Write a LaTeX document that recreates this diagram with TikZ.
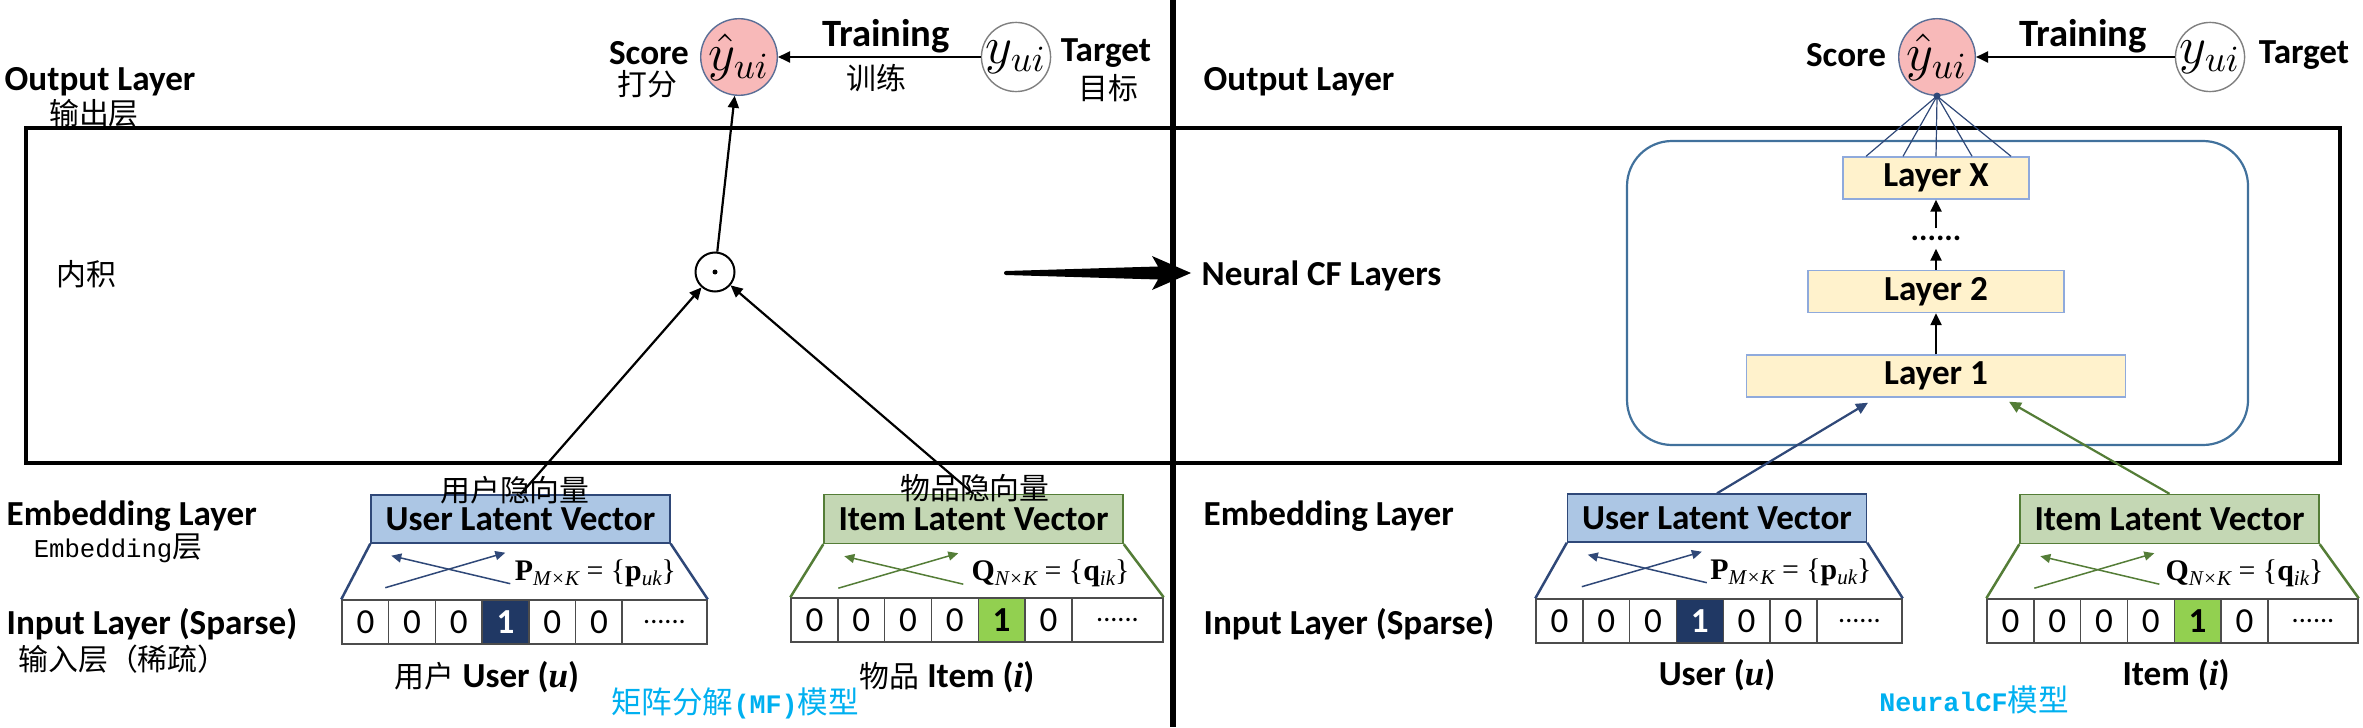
\RequirePackage{fix-cm}
\documentclass[tikz,border=0pt]{standalone}
\usepackage[no-math]{fontspec}
\setmainfont{Carlito}
\newfontfamily\cjk{Noto Sans CJK SC}
\newfontfamily\mono{Liberation Mono}
\newfontfamily\tms{Liberation Serif}
\usetikzlibrary{arrows.meta}
\definecolor{scorepink}{RGB}{248,185,185}
\definecolor{circline}{RGB}{90,110,150}
\definecolor{userblue}{RGB}{172,198,228}
\definecolor{userline}{RGB}{47,72,120}
\definecolor{usernavy}{RGB}{32,56,100}
\definecolor{itemgreen}{RGB}{196,215,180}
\definecolor{itemline}{RGB}{84,125,55}
\definecolor{itemhot}{RGB}{146,208,80}
\definecolor{layerfill}{RGB}{255,242,204}
\definecolor{layerline}{RGB}{143,170,220}
\definecolor{ncfline}{RGB}{65,113,156}
\definecolor{titlecyan}{RGB}{0,176,240}
% two small crossed arrows under a latent vector box
\newcommand\latentcross[2]{%
  \draw[#2, line width=0.15mm, ->, >={Triangle[length=1mm,width=0.9mm]}] ([shift={(15,44)}]#1.south west) -- ++(120,-35);
  \draw[#2, line width=0.15mm, ->, >={Triangle[length=1mm,width=0.9mm]}] ([shift={(140,40)}]#1.south west) -- ++(-119,-28);}
% matrix label in Times: #1_{#2} = {#3_{#4}}
\newcommand\latentform[4]{{\tms\fontsize{8.5}{10}\selectfont\textbf{#1}\raisebox{-0.35ex}{\fontsize{6}{7}\selectfont\itshape #2} = \{\textbf{#3}\raisebox{-0.35ex}{\fontsize{6}{7}\selectfont\itshape #4}\}}}
\begin{document}
\begin{tikzpicture}[x=0.1mm, y=-0.1mm, >={Triangle[length=1.2mm,width=1.1mm]},
  lay/.style={font=\bfseries\fontsize{10}{12}\selectfont, inner sep=0},
  zh/.style={font=\cjk\fontsize{8.5}{10}\selectfont, inner sep=0},
  score/.style={draw=circline, fill=scorepink, circle, minimum size=6.4mm, inner sep=0, font=\fontsize{15}{16}\selectfont},
  target/.style={draw=gray, fill=white, circle, minimum size=6.6mm, inner sep=0, font=\fontsize{15}{16}\selectfont},
  ubox/.style={lay, draw=userline, fill=userblue, minimum width=29.9mm, minimum height=4.8mm},
  ibox/.style={lay, draw=itemline, fill=itemgreen, minimum width=29.9mm, minimum height=4.9mm},
  cell/.style={draw=black!70, fill=white, minimum width=4.68mm, minimum height=4.4mm, inner sep=0, font=\fontsize{10}{12}\selectfont},
  uhot/.style={cell, fill=usernavy, text=white, font=\bfseries\fontsize{10}{12}\selectfont},
  ihot/.style={cell, fill=itemhot, font=\bfseries\fontsize{10}{12}\selectfont},
  dots/.style={cell, font=\fontsize{8}{9}\selectfont},
  layer/.style={lay, draw=layerline, fill=layerfill, minimum height=4.2mm},
  arr/.style={->, line width=0.22mm}]
\useasboundingbox (0,0) rectangle (2363,727);

% frames
\draw[line width=0.35mm] (26,128) rectangle (1173,463);
\draw[line width=0.35mm] (1173,128) rectangle (2340,463);
\draw[line width=0.6mm] (1173,0) -- (1173,727);

% ---- MF model (left) ----
\node[lay, anchor=west] (outL) at (4,82) {Output Layer};
\node[zh] (outLzh) at (94,113) {输出层};
\node[zh] (dotzh) at (86,274) {内积};
\node[lay, anchor=west] (embL) at (6,516) {Embedding Layer};
\node[inner sep=0] (embLzh) at (118,548) {{\mono\fontsize{7.3}{9}\selectfont Embedding}{\cjk\fontsize{8.5}{10}\selectfont 层}};
\node[lay, anchor=west] (inL) at (6,624) {Input Layer (Sparse)};
\node[zh] (inLzh) at (123,659) {输入层（稀疏）};

\node[score] (lscore) at (739,57) {$\hat{y}_{ui}$};
\node[target] (ltarget) at (1016,57) {$y_{ui}$};
\node[lay] (lscorelbl) at (649,53) {Score};
\node[zh] (lscorezh) at (647,84) {打分};
\node[lay, font=\bfseries\fontsize{11}{13}\selectfont] (ltrain) at (886,36) {Training};
\node[zh] (ltrainzh) at (876,78) {训练};
\node[lay] (ltargetlbl) at (1106,53) {Target};
\node[zh] (ltargetzh) at (1108,88) {目标};

\node[draw, circle, line width=0.2mm, minimum size=3.9mm, inner sep=0] (dot) at (715,272) {};
\fill (dot.center) circle (0.25mm);

\node[ubox] (uvecL) at (520.5,519) {User Latent Vector};
\node[ibox] (ivecL) at (973.5,519) {Item Latent Vector};
\node[zh] (uvecLzh) at (515,490) {用户隐向量};
\node[zh] (ivecLzh) at (975,488) {物品隐向量};

\foreach \v/\s [count=\k] in {0/cell,0/cell,0/cell,1/uhot,0/cell,0/cell}
  \node[\s] (uL\k) at ({365.4+(\k-1)*46.7},622) {\v};
\node[dots, minimum width=8.5mm] (uL7) at (664.5,622) {......};
\foreach \v/\s [count=\k] in {0/cell,0/cell,0/cell,0/cell,1/ihot,0/cell}
  \node[\s] (iL\k) at ({814.4+(\k-1)*46.8},620) {\v};
\node[dots, minimum width=9.1mm] (iL7) at (1117.5,620) {......};

\draw[userline, line width=0.25mm] (uvecL.south west) -- (uL1.north west) (uvecL.south east) -- (uL7.north east);
\draw[itemline, line width=0.25mm] (ivecL.south west) -- (iL1.north west) (ivecL.south east) -- (iL7.north east);
\latentcross{uvecL}{userline}
\latentcross{ivecL}{itemline}
\node[inner sep=0] (pL) at ([shift={(75,30)}]uvecL.south) {\latentform{P}{M×K}{p}{uk}};
\node[inner sep=0] (qL) at ([shift={(77,29)}]ivecL.south) {\latentform{Q}{N×K}{q}{ik}};

\node[lay] (userL) at (487,677) {{\cjk\mdseries\fontsize{8.5}{10}\selectfont 用户} User ({\tms\itshape u})};
\node[lay] (itemL) at (947,677) {{\cjk\mdseries\fontsize{8.5}{10}\selectfont 物品} Item ({\tms\itshape i})};
\node[text=titlecyan, inner sep=0] (mftitle) at (735,703) {{\cjk\fontsize{8.7}{10}\selectfont 矩阵分解}{\mono\bfseries\fontsize{7.6}{9}\selectfont (MF)}{\cjk\fontsize{8.7}{10}\selectfont 模型}};

\draw[arr] (uvecL.north) -- (dot);
\draw[arr] (ivecL.north) -- (dot);
\draw[arr] (dot) -- (lscore);
\draw[arr] (ltarget) -- (lscore);

% big arrow towards NeuralCF
\coordinate (mftail) at (1006,273);
\fill (mftail) circle (0.2mm);
\fill (1006,271) -- (1158,266.5) -- (1152,256) -- (1191,273) -- (1152,290) -- (1158,279.5) -- (1006,275) -- cycle;

% ---- NeuralCF model (right) ----
\node[lay, anchor=west] (outR) at (1203,82) {Output Layer};
\node[lay, anchor=west] (ncf) at (1201,276) {Neural CF Layers};
\node[lay, anchor=west] (embR) at (1203,516) {Embedding Layer};
\node[lay, anchor=west] (inR) at (1203,624) {Input Layer (Sparse)};

\node[score] (rscore) at (1937,57) {$\hat{y}_{ui}$};
\node[target] (rtarget) at (2210,57) {$y_{ui}$};
\node[lay] (rscorelbl) at (1846,55) {Score};
\node[lay, font=\bfseries\fontsize{11}{13}\selectfont] (rtrain) at (2083,36) {Training};
\node[lay] (rtargetlbl) at (2304,55) {Target};
\draw[arr] (rtarget) -- (rscore);

\node[draw=ncfline, line width=0.22mm, rounded corners=4.5mm, minimum width=62.1mm, minimum height=30.4mm] (ncfbox) at (1937.5,293) {};
\node[layer, minimum width=37.9mm] (l1) at (1936,376) {Layer 1};
\node[layer, minimum width=25.6mm] (l2) at (1936,291.5) {Layer 2};
\node[font=\bfseries\fontsize{9}{10}\selectfont, inner sep=0, minimum height=1.9mm] (ldots) at (1936,238.5) {......};
\node[layer, minimum width=18.6mm] (lx) at (1936,178) {Layer X};
\draw[arr] (l1) -- (l2);
\draw[arr] (l2) -- (ldots);
\draw[arr] (ldots) -- (lx);
\foreach \dx in {-70,-33,0,36,75}
  \draw[userline, line width=0.12mm] (rscore.south) -- ([shift={(\dx,0)}]lx.north);
\fill[userline] (rscore.south) circle (0.35mm);

\node[ubox] (uvecR) at (1717,518) {User Latent Vector};
\node[ibox] (ivecR) at (2169.5,519) {Item Latent Vector};
\foreach \v/\s [count=\k] in {0/cell,0/cell,0/cell,1/uhot,0/cell,0/cell}
  \node[\s] (uR\k) at ({1559.4+(\k-1)*46.8},621) {\v};
\node[dots, minimum width=8.5mm] (uR7) at (1859.5,621) {......};
\foreach \v/\s [count=\k] in {0/cell,0/cell,0/cell,0/cell,1/ihot,0/cell}
  \node[\s] (iR\k) at ({2010.4+(\k-1)*46.8},621) {\v};
\node[dots, minimum width=9.0mm] (iR7) at (2313,621) {......};

\draw[userline, line width=0.25mm] (uvecR.south west) -- (uR1.north west) (uvecR.south east) -- (uR7.north east);
\draw[itemline, line width=0.25mm] (ivecR.south west) -- (iR1.north west) (ivecR.south east) -- (iR7.north east);
\latentcross{uvecR}{userline}
\latentcross{ivecR}{itemline}
\node[inner sep=0] (pR) at ([shift={(74,30)}]uvecR.south) {\latentform{P}{M×K}{p}{uk}};
\node[inner sep=0] (qR) at ([shift={(75,29)}]ivecR.south) {\latentform{Q}{N×K}{q}{ik}};

\draw[userline, arr] (uvecR.north) -- ([shift={(-68,5)}]l1.south);
\draw[itemline, arr] (ivecR.north) -- ([shift={(73,4)}]l1.south);

\node[lay] (userR) at (1717,675) {User ({\tms\itshape u})};
\node[lay] (itemR) at (2176,675) {Item ({\tms\itshape i})};
\node[text=titlecyan, inner sep=0] (ncftitle) at (1974,700) {{\mono\bfseries\fontsize{7.6}{9}\selectfont NeuralCF}{\cjk\fontsize{8.7}{10}\selectfont 模型}};
\end{tikzpicture}
\end{document}
